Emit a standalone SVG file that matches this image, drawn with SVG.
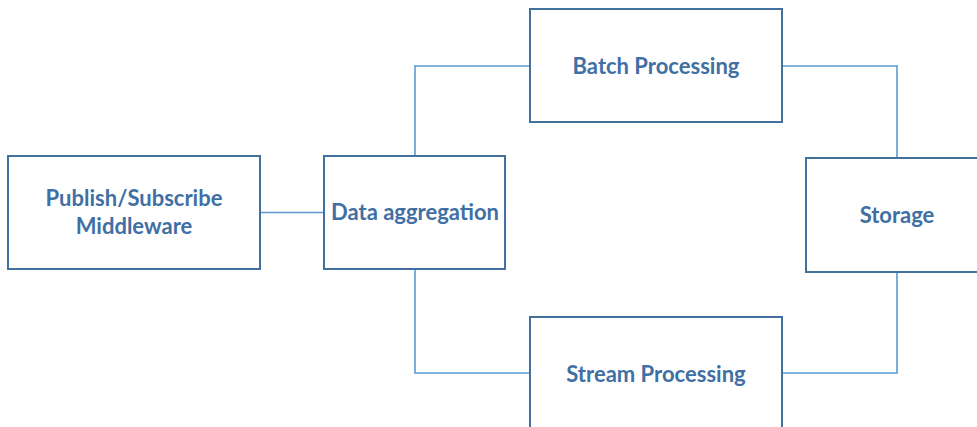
<svg xmlns="http://www.w3.org/2000/svg" width="977" height="427" viewBox="0 0 977 427">
  <style>
    .box { fill: #ffffff; stroke: #41719c; stroke-width: 2; }
    .link { fill: none; stroke: #5b9bd5; stroke-width: 1.6; }
    .label { font-family: Lato, "Liberation Sans", sans-serif; font-weight: bold; font-size: 22px; fill: #3f6fa3; text-anchor: middle; }
  </style>
  <rect width="977" height="427" fill="#ffffff"/>
  <g id="connectors">
    <path class="link" d="M260 212.5 H324"/>
    <path class="link" d="M415 156 V66 H530"/>
    <path class="link" d="M415 269 V373 H530"/>
    <path class="link" d="M782 66 H897 V158"/>
    <path class="link" d="M782 373 H897 V272"/>
  </g>
  <g id="pubsub">
    <rect class="box" x="8" y="156" width="252" height="113"/>
    <text class="label" x="134" y="206">Publish/Subscribe</text>
    <text class="label" x="134" y="234">Middleware</text>
  </g>
  <g id="aggregation">
    <rect class="box" x="324" y="156" width="181" height="113"/>
    <text class="label" x="415" y="220">Data aggregation</text>
  </g>
  <g id="batch">
    <rect class="box" x="530" y="9" width="252" height="113"/>
    <text class="label" x="656" y="74">Batch Processing</text>
  </g>
  <g id="stream">
    <rect class="box" x="530" y="317" width="252" height="120"/>
    <text class="label" x="656" y="382">Stream Processing</text>
  </g>
  <g id="storage">
    <rect class="box" x="806" y="158" width="180" height="114"/>
    <text class="label" x="897" y="223">Storage</text>
  </g>
</svg>
